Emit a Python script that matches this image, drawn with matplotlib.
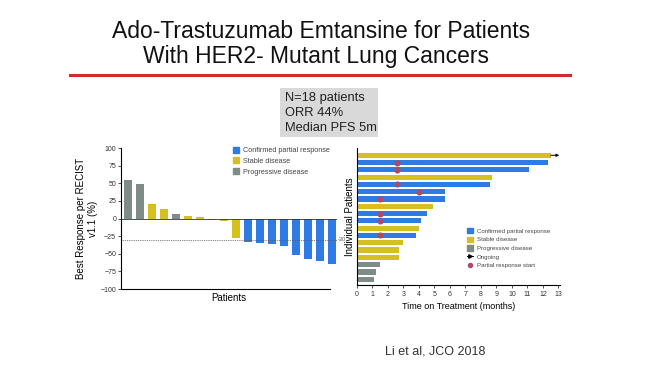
import numpy as np
import matplotlib.pyplot as plt
from matplotlib.lines import Line2D
from matplotlib.patches import Patch

plt.rcParams['font.family'] = ['Liberation Sans', 'DejaVu Sans']

# colours
c_pr = '#2f7be6'
c_sd = '#d6c021'
c_pd = '#7e8b87'
c_dot = '#ad4a66'

# waterfall (left)
wf_values = [55, 49, 20, 14, 7, 4, 2, -2, -4, -27, -33, -35, -36, -39, -52, -57, -60, -65]
wf_status = ['PD', 'PD', 'SD', 'SD', 'PD', 'SD', 'SD', 'SD', 'SD', 'SD',
             'PR', 'PR', 'PR', 'PR', 'PR', 'PR', 'PR', 'PR']

# swimmer (right), top to bottom
sw_months = [12.5, 12.3, 11.1, 8.7, 8.6, 5.7, 5.7, 4.9, 4.5, 4.1, 4.0, 3.8, 3.0, 2.7, 2.7, 1.5, 1.2, 1.1]
sw_status = ['SD', 'PR', 'PR', 'SD', 'PR', 'PR', 'PR', 'SD', 'PR', 'PR', 'SD', 'PR', 'SD', 'SD', 'SD', 'PD', 'PD', 'PD']
sw_pr_start = [None, 2.6, 2.6, None, 2.6, 4.0, 1.5, None, 1.5, 1.5, None, 1.5, None, None, None, None, None, None]
sw_ongoing = [True] + [False] * 17

colmap = {'PR': c_pr, 'SD': c_sd, 'PD': c_pd}

W, H = 657, 373
fig = plt.figure(figsize=(W / 100, H / 100), dpi=100)
fig.patch.set_facecolor('white')

def frac(x0, y0, x1, y1):
    return [x0 / W, 1 - y1 / H, (x1 - x0) / W, (y1 - y0) / H]

# title
fig.text(321 / W, 1 - 38 / H, 'Ado-Trastuzumab Emtansine for Patients',
         ha='center', va='baseline', fontsize=16.5, color='#111111')
fig.text(316 / W, 1 - 63 / H, 'With HER2- Mutant Lung Cancers',
         ha='center', va='baseline', fontsize=16.5, color='#111111')
fig.add_artist(Line2D([70 / W, 570 / W], [1 - 75 / H, 1 - 75 / H], color='#d42a2a', lw=2.2))

# info box
box = fig.add_axes(frac(280, 88, 378, 137))
box.set_facecolor('#d9d9d9')
box.set_xticks([]); box.set_yticks([])
for s in box.spines.values():
    s.set_visible(False)
for i, t in enumerate(['N=18 patients', 'ORR 44%', 'Median PFS 5m']):
    fig.text(285 / W, 1 - (98 + 15 * i) / H, t, ha='left', va='center', fontsize=9.3, color='#222222')

# ---- waterfall
ax1 = fig.add_axes(frac(121, 148, 337, 289))
x = np.arange(len(wf_values))
ax1.bar(x, wf_values, width=0.68, color=[colmap[s] for s in wf_status])
ax1.set_xlim(-0.6, 17.45)
ax1.set_ylim(-100, 100)
ax1.set_yticks(np.arange(-100, 101, 25))
ax1.tick_params(axis='y', labelsize=5, length=2, width=0.6, pad=1.5, colors='#333333')
ax1.set_xticks([])
ax1.axhline(0, color='#333333', lw=0.6)
ax1.plot([-0.6, 17.45], [-30, -30], ls=(0, (1, 1.2)), color='#555555', lw=0.6, clip_on=False)
ax1.text(17.55, -30, '-30', fontsize=4, va='center', ha='left', color='#555555')
for s in ['top', 'right']:
    ax1.spines[s].set_visible(False)
ax1.spines['left'].set_linewidth(0.8)
ax1.spines['bottom'].set_linewidth(0.8)
ax1.spines['bottom'].set_bounds(-0.6, 16.9)
ax1.set_xlabel('Patients', fontsize=7, labelpad=3)
ax1.set_ylabel('Best Response per RECIST\nv1.1 (%)', fontsize=7, labelpad=2)
h1 = [Patch(color=c_pr, label='Confirmed partial response'),
      Patch(color=c_sd, label='Stable disease'),
      Patch(color=c_pd, label='Progressive disease')]
ax1.legend(handles=h1, loc='upper left', bbox_to_anchor=(229 / W, 1 - 143 / H),
           bbox_transform=fig.transFigure, frameon=False, fontsize=5.2,
           handlelength=0.9, handleheight=0.9, handletextpad=0.6, labelspacing=0.45,
           borderpad=0, labelcolor='#444444')

# ---- swimmer
ax2 = fig.add_axes(frac(357, 148, 560, 285))
n = len(sw_months)
y = np.arange(n)[::-1]
ax2.barh(y, sw_months, height=0.72, color=[colmap[s] for s in sw_status])
for yi, m, st, og in zip(y, sw_months, sw_pr_start, sw_ongoing):
    if st is not None:
        ax2.plot(st, yi, 'o', color=c_dot, ms=4.4, mec='none')
    if og:
        ax2.annotate('', xy=(13.05, yi), xytext=(m, yi),
                     arrowprops=dict(arrowstyle='-|>', color='black', lw=0.7,
                                     mutation_scale=4, shrinkA=0, shrinkB=0),
                     annotation_clip=False)
ax2.set_xlim(0, 13.1)
ax2.set_ylim(-0.8, 18)
ax2.set_xticks(np.arange(0, 14))
ax2.set_yticks([])
ax2.tick_params(axis='x', labelsize=5, length=2, width=0.6, pad=2, colors='#333333')
for s in ['top', 'right']:
    ax2.spines[s].set_visible(False)
ax2.spines['left'].set_linewidth(0.8)
ax2.spines['bottom'].set_linewidth(0.8)
ax2.set_xlabel('Time on Treatment (months)', fontsize=6.5, labelpad=3)
ax2.set_ylabel('Individual Patients', fontsize=7, labelpad=1.5)
h2 = [Patch(color=c_pr, label='Confirmed partial response'),
      Patch(color=c_sd, label='Stable disease'),
      Patch(color=c_pd, label='Progressive disease'),
      Line2D([], [], color='black', lw=0.7, marker='>', ms=2.5, markevery=[1], label='Ongoing'),
      Line2D([], [], ls='', marker='o', color=c_dot, ms=4, mec='none', label='Partial response start')]
ax2.legend(handles=h2, loc='upper left', bbox_to_anchor=(464 / W, 1 - 225 / H),
           bbox_transform=fig.transFigure, frameon=False, fontsize=4.4,
           handlelength=1.0, handleheight=0.9, handletextpad=0.6, labelspacing=0.5,
           borderpad=0, labelcolor='#444444')

fig.text(385 / W, 1 - 352 / H, 'Li et al, JCO 2018', fontsize=9, ha='left', va='center', color='#333333')

fig.savefig('out.png', dpi=100)
